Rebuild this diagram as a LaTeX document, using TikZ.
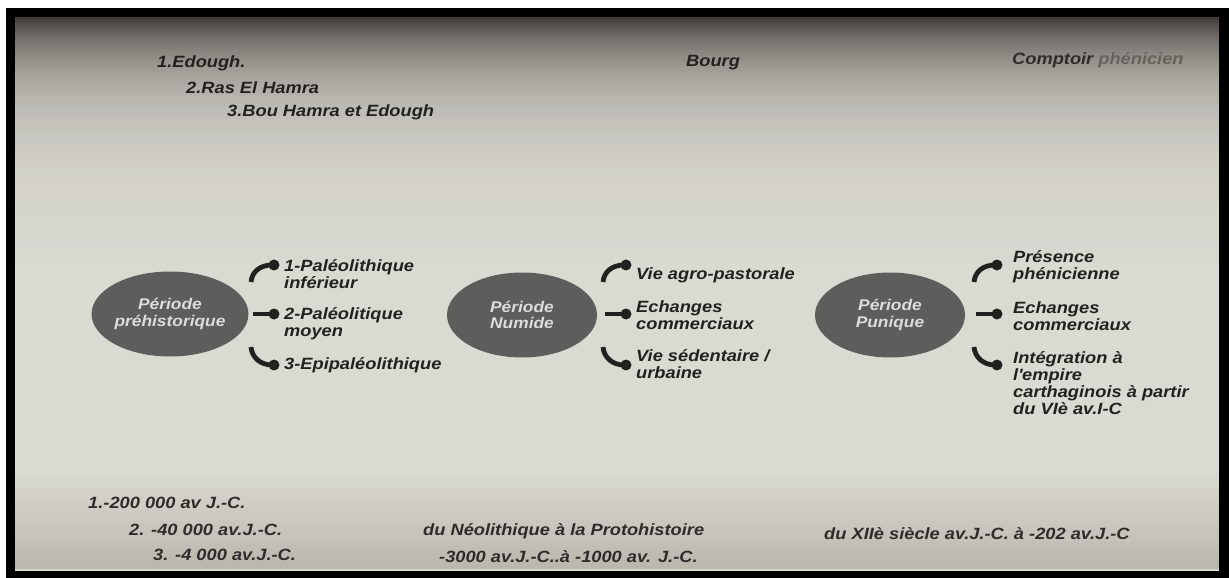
\documentclass[tikz,border=0pt]{standalone}
\usepackage{fontspec}
\setmainfont{Liberation Sans}[FakeStretch=1.12]
\usetikzlibrary{shapes.geometric}
\definecolor{ink}{HTML}{222120}
\definecolor{inksoft}{HTML}{2E2C2A}
\definecolor{bglight}{HTML}{DAD9D2}
\definecolor{bgtop}{HTML}{443E3A}
\definecolor{bgbot}{HTML}{B8B5AD}
\definecolor{ellgray}{HTML}{5F5D5B}
\definecolor{elltext}{HTML}{DCDCDA}
\definecolor{faded}{HTML}{66625E}
\tikzset{
  txt/.style={inner sep=0pt, anchor=west, align=left, text=ink,
    font=\bfseries\itshape\fontsize{16.3}{17}\selectfont},
  bottxt/.style={txt, text=inksoft},
  period/.style={ellipse, fill=ellgray, minimum width=150pt, minimum height=85pt,
    inner sep=0pt, align=center, text=elltext,
    font=\bfseries\itshape\fontsize{15.5}{16.5}\selectfont},
  conn/.style={draw=ink, line width=4.8pt},
  brk/.pic={
    \draw[conn] (-2,-32) .. controls (-1,-43) and (8,-49) .. (19,-49);
    \fill[ink] (21,-49) circle (5.5);
    \draw[conn] (0,0) -- (20,0);
    \fill[ink] (21,0) circle (5.5);
    \draw[conn] (-2,33) .. controls (-1,44) and (8,51) .. (19,51);
    \fill[ink] (21,51) circle (5.5);
  }
}
\begin{document}
\begin{tikzpicture}[x=1pt,y=-1pt]
\useasboundingbox (0,0) rectangle (1229,578);
% frame and background
\fill[white] (0,0) rectangle (1229,578);
\fill[black] (6,8) rectangle (1229,578);
\fill[bglight] (15,17) rectangle (1219,571);
\foreach \y in {17,20,...,260}{
  \pgfmathsetmacro{\p}{100*(1-exp(-(\y-17)/55))}
  \fill[bglight!\p!bgtop] (15,\y) rectangle (1219,\y+3.2);
}
\foreach \y in {470,473,...,568}{
  \pgfmathsetmacro{\q}{100*((571-\y)/101)}
  \fill[bglight!\q!bgbot] (15,\y) rectangle (1219,\y+3.2);
}
\fill[black] (6,571) rectangle (1229,578);

% top labels
\node[txt] (t1) at (157,63) {1.Edough.};
\node[txt] (t2) at (186,88) {2.Ras El Hamra};
\node[txt] (t3) at (227,112) {3.Bou Hamra et Edough};
\node[txt] (bourg) at (686,63) {Bourg};
\node[txt, text=inksoft] (comptoir) at (1012,60) {Comptoir \textcolor{faded}{phénicien}};

% periods
\node[period] (p1) at (170,314) {Période\\préhistorique};
\node[period] (p2) at (522,315) {Période\\Numide};
\node[period] (p3) at (890,315) {Période\\Punique};

% brackets
\pic at (253,314) {brk};
\pic at (605,314) {brk};
\pic at (976,314) {brk};

% group 1
\node[txt] (a1) at (284,274.5) {1-Paléolithique\\inférieur};
\node[txt] (a2) at (284,323.5) {2-Paléolitique\\moyen};
\node[txt] (a3) at (284,365) {3-Epipaléolithique};
% group 2
\node[txt] (b1) at (636,275) {Vie agro-pastorale};
\node[txt] (b2) at (636,315.5) {Echanges\\commerciaux};
\node[txt] (b3) at (636,364) {Vie sédentaire /\\urbaine};
% group 3
\node[txt] (c1) at (1013,266.5) {Présence\\phénicienne};
\node[txt] (c2) at (1013,316) {Echanges\\commerciaux};
\node[txt] (c3) at (1013,383) {Intégration à\\l\textquotesingle empire\\carthaginois à partir\\du VIè av.I-C};

% bottom dates
\node[bottxt] (d1) at (88,503) {1.-200 000 av J.-C.};
\node[bottxt] (d2) at (129,530) {2. -40 000 av.J.-C.};
\node[bottxt] (d3) at (153,555) {3. -4 000 av.J.-C.};
\node[bottxt] (e1) at (423,531) {du Néolithique à la Protohistoire};
\node[bottxt] (e2) at (439,557) {-3000 av.J.-C..à -1000 av. J.-C.};
\node[bottxt] (f1) at (824,534) {du XIIè siècle av.J.-C. à -202 av.J.-C};
\end{tikzpicture}
\end{document}
